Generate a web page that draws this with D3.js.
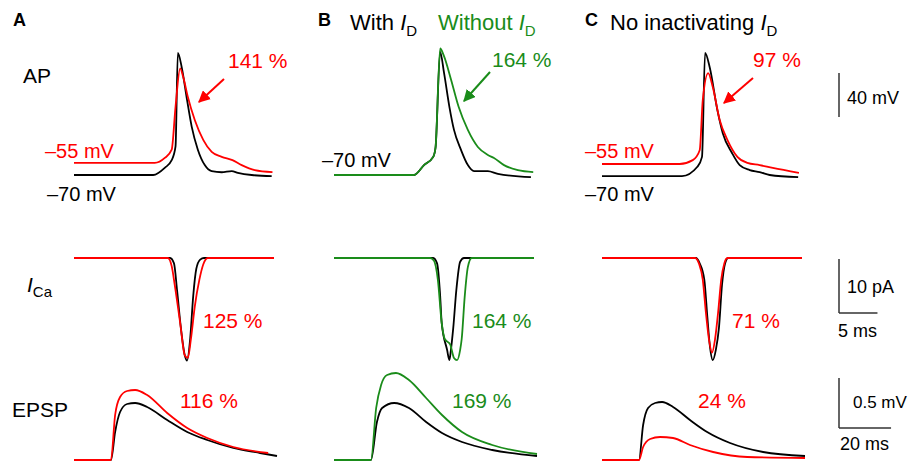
<!DOCTYPE html>
<html>
<head>
<meta charset="utf-8">
<script src="https://d3js.org/d3.v7.min.js"></script>
<style>
    body { margin: 0; background: #fff; }
    text { font-family: Arial, "Liberation Sans", Helvetica, sans-serif; }
</style>
</head>
<body>
<script>
    var width = 914;
    var height = 462;

    // panel left edges (px) and colours
    var panelX = [74, 334, 602];
    var red = "#ff0000";
    var green = "#1a8c1a";

    // ---- AP traces [ms, mV] ----
    var apA_black = [[0,-70],[10.3,-70],[11.8,-63.5],[12.7,-56.5],[13.2,-44],[13.5,41],[14.0,28],[14.7,-2],[15.3,-26],[16.1,-47],[17.0,-61],[17.9,-66.5],[19.2,-67.5],[20.5,-66.5],[21.3,-68],[23.1,-70],[25.7,-71]];
    var apA_red = [[0,-59],[10.5,-59],[11.8,-54.5],[12.7,-47],[13.2,-8],[13.8,27],[14.2,19],[14.8,1],[15.7,-20],[16.8,-38],[17.9,-49],[19.2,-53.5],[20.6,-56.5],[21.8,-61],[23.5,-65.5],[25.8,-67.3]];
    var apB_black = [[0,-70],[10.4,-70],[11.7,-61],[12.9,-53.5],[13.2,-45],[13.8,42],[14.3,23],[15.0,-8],[15.6,-29],[16.5,-47],[17.4,-61],[18.2,-66.5],[20.0,-66.5],[21.3,-69],[25.6,-72]];
    var apB_green = [[0,-70],[10.4,-70],[11.7,-61],[12.9,-53.5],[13.2,-45],[13.8,45],[14.3,38],[15.2,17],[16.2,-8],[17.4,-29],[18.7,-44.5],[20.0,-51.8],[20.8,-54.5],[22.1,-61],[23.9,-65.5],[25.9,-67.3]];
    var apC_black = [[0,-71],[10.4,-71],[12.4,-62.5],[13.0,-53.5],[13.4,41],[14.0,28],[15.0,-11],[15.7,-32],[16.9,-50],[17.9,-61],[19.2,-65.5],[20.5,-67.3],[21.8,-70],[25.5,-72]];
    var apC_red = [[0,-60],[10.1,-60],[11.8,-56.5],[12.7,-47.5],[13.1,-2],[13.8,22.7],[14.4,10],[15.3,-20],[16.3,-38],[17.6,-53.5],[18.9,-59],[20.5,-61],[22.2,-63.6],[25.6,-68]];

    // ---- ICa traces [ms, pA] ----
    var caA_black = [[0,0],[12.5,0],[13.0,-1],[13.4,-6],[13.9,-13],[14.4,-18],[14.7,-19],[15.1,-15],[15.5,-7],[15.9,-2],[16.4,-0.3],[16.9,0],[26,0]];
    var caA_red = [[0,0],[12.2,0],[12.7,-1.5],[13.1,-5],[13.8,-12],[14.4,-18],[14.8,-18.5],[15.2,-15],[15.7,-9],[16.3,-4],[16.8,-1.2],[17.4,0],[26,0]];
    var caB_black = [[0,0],[12.9,0],[13.4,-1],[13.8,-7],[14.0,-12],[14.7,-17],[15.0,-18.9],[15.2,-17],[15.5,-13],[15.9,-6],[16.4,-0.7],[16.9,0],[26,0]];
    var caB_green = [[0,0],[12.5,0],[13.0,-0.5],[13.5,-4],[14.0,-12],[14.4,-15],[15.1,-16],[15.6,-18.5],[16.0,-18.9],[16.4,-17],[16.6,-15],[17.0,-7],[17.4,-1.7],[17.9,0],[26,0]];
    var caC_black = [[0,0],[12.2,0],[12.7,-1],[13.3,-4],[13.7,-11],[14.0,-16],[14.4,-18.9],[14.8,-17],[15.2,-13],[15.6,-5],[16.0,-1],[16.4,0],[26,0]];
    var caC_red = [[0,0],[12.1,0],[12.6,-1],[13.1,-4],[13.5,-10],[13.9,-15],[14.3,-17.5],[14.7,-15],[15.1,-10],[15.5,-4],[15.9,-1],[16.3,0],[26,0]];

    // ---- EPSP traces [ms, mV] ----
    var epA_black = [[0,0],[14.2,0],[15.8,0.28],[17.7,0.48],[20.4,0.56],[23.5,0.57],[28.1,0.53],[35.8,0.40],[43.5,0.28],[51.2,0.20],[61.2,0.12],[71.5,0.07],[78,0.04]];
    var epA_red = [[0,0],[14.2,0],[15.8,0.45],[17.7,0.63],[20.4,0.69],[23.5,0.70],[28.1,0.65],[35.8,0.47],[43.5,0.32],[51.2,0.22],[61.2,0.13],[74.6,0.07]];
    var epB_black = [[0,0],[14.2,0],[16.5,0.38],[18.5,0.52],[23.1,0.57],[28.8,0.52],[35.4,0.38],[41.5,0.27],[49.2,0.18],[60.8,0.10],[78,0.04]];
    var epB_green = [[0,0],[14.2,0],[16.2,0.52],[18.1,0.75],[20.4,0.85],[23.8,0.87],[28.8,0.80],[35.4,0.62],[41.5,0.45],[49.2,0.28],[60.8,0.15],[78,0.06]];
    var epC_black = [[0,0],[14.2,0],[15.8,0.35],[17.7,0.52],[20.4,0.57],[23.1,0.58],[27.3,0.53],[33.8,0.40],[40.4,0.28],[49.2,0.17],[61.9,0.08],[78,0.04]];
    var epC_red = [[0,0],[14.2,0],[15.8,0.13],[18.5,0.21],[22.3,0.23],[27.3,0.22],[33.8,0.15],[42.7,0.08],[55.8,0.03],[78,0.02]];

    var pctAP = ["141 %", "164 %", "97 %"];
    var pctCa = ["125 %", "164 %", "71 %"];
    var pctEP = ["116 %", "169 %", "24 %"];

    var svg = d3.select("body").append("svg")
        .attr("width", width)
        .attr("height", height);

    // y scales per row
    var yAP = d3.scaleLinear().domain([-70, 40]).range([175, 54]);
    var yCa = d3.scaleLinear().domain([0, -20]).range([258, 366]);
    var yEP = d3.scaleLinear().domain([0, 1]).range([460, 360]);

    function xFast(p) { return d3.scaleLinear().domain([0, 26]).range([panelX[p], panelX[p] + 200]); }
    function xSlow(p) { return d3.scaleLinear().domain([0, 78]).range([panelX[p], panelX[p] + 203]); }

    function trace(data, xs, ys, col) {
        var line = d3.line()
            .x(function(d) { return xs(d[0]); })
            .y(function(d) { return ys(d[1]); })
            .curve(d3.curveMonotoneX);
        svg.append("path")
            .datum(data)
            .attr("d", line)
            .attr("fill", "none")
            .attr("stroke", col)
            .attr("stroke-width", 1.8)
            .attr("stroke-linejoin", "round");
    }

    var apSets = [[apA_black, apA_red, red], [apB_black, apB_green, green], [apC_black, apC_red, red]];
    var caSets = [[caA_black, caA_red, red], [caB_black, caB_green, green], [caC_black, caC_red, red]];
    var epSets = [[epA_black, epA_red, red], [epB_black, epB_green, green], [epC_black, epC_red, red]];

    for (var p = 0; p < 3; p++) {
        trace(apSets[p][0], xFast(p), yAP, "#000");
        trace(apSets[p][1], xFast(p), yAP, apSets[p][2]);
        trace(caSets[p][0], xFast(p), yCa, "#000");
        trace(caSets[p][1], xFast(p), yCa, caSets[p][2]);
        trace(epSets[p][0], xSlow(p), yEP, "#000");
        trace(epSets[p][1], xSlow(p), yEP, epSets[p][2]);
    }

    function label(x, y, txt, size, col, weight) {
        return svg.append("text")
            .attr("x", x).attr("y", y)
            .attr("font-size", size)
            .attr("fill", col || "#000")
            .attr("font-weight", weight || "normal")
            .text(txt);
    }

    // panel letters + titles
    label(13, 26, "A", 18, "#000", "bold");
    label(318, 26, "B", 18, "#000", "bold");
    label(585, 26, "C", 18, "#000", "bold");

    function subTitle(x, y, pre, col) {
        var t = svg.append("text").attr("x", x).attr("y", y)
            .attr("font-size", 22).attr("fill", col);
        t.append("tspan").text(pre);
        t.append("tspan").attr("font-style", "italic").text("I");
        t.append("tspan").attr("font-size", 15).attr("dy", 6).text("D");
    }
    subTitle(350, 30, "With ", "#000");
    subTitle(438, 30, "Without ", green);
    subTitle(610, 30, "No inactivating ", "#000");

    // row labels
    label(23, 83, "AP", 21);
    var ica = svg.append("text").attr("x", 27).attr("y", 292).attr("font-size", 21);
    ica.append("tspan").attr("font-style", "italic").text("I");
    ica.append("tspan").attr("font-size", 15).attr("dy", 5).text("Ca");
    label(12, 417, "EPSP", 21);

    // holding potentials
    label(45, 158, "–55 mV", 20, red);
    label(47, 201, "–70 mV", 20);
    label(322, 167, "–70 mV", 20);
    label(585, 158, "–55 mV", 20, red);
    label(585, 201, "–70 mV", 20);

    // percentages
    var pctCol = [red, green, red];
    var apPct = [[228, 68], [492, 67], [753, 67]];
    var caPct = [[203, 328], [472, 328], [732, 328]];
    var epPct = [[180, 408], [452, 408], [698, 408]];
    for (var i = 0; i < 3; i++) {
        label(apPct[i][0], apPct[i][1], pctAP[i], 21, pctCol[i]);
        label(caPct[i][0], caPct[i][1], pctCa[i], 21, pctCol[i]);
        label(epPct[i][0], epPct[i][1], pctEP[i], 21, pctCol[i]);
    }

    // arrows
    var defs = svg.append("defs");
    [["ar", red], ["ag", green]].forEach(function(m) {
        defs.append("marker")
            .attr("id", m[0])
            .attr("viewBox", "0 0 10 10")
            .attr("refX", 9).attr("refY", 5)
            .attr("markerWidth", 6).attr("markerHeight", 6)
            .attr("markerUnits", "strokeWidth")
            .attr("orient", "auto")
            .append("path").attr("d", "M0,0 L10,5 L0,10 z").attr("fill", m[1]);
    });
    var arrows = [[224, 79, 199, 102, "ar", red], [490, 72, 464, 101, "ag", green], [753, 78, 724, 103, "ar", red]];
    arrows.forEach(function(a) {
        svg.append("line")
            .attr("x1", a[0]).attr("y1", a[1]).attr("x2", a[2]).attr("y2", a[3])
            .attr("stroke", a[5]).attr("stroke-width", 2)
            .attr("marker-end", "url(#" + a[4] + ")");
    });

    // scale bars
    var sbX = 839;
    var sb = svg.append("g").attr("stroke", "#333").attr("stroke-width", 1.5).attr("fill", "none");
    var xs0 = xFast(2), xe0 = xSlow(2);
    // 40 mV
    sb.append("line").attr("x1", sbX).attr("x2", sbX).attr("y1", 73).attr("y2", 73 + yAP(-70) - yAP(-30));
    label(847, 104, "40 mV", 18);
    // 10 pA, 5 ms
    var caBot = 259 + yCa(-10) - yCa(0);
    sb.append("line").attr("x1", sbX).attr("x2", sbX).attr("y1", 259).attr("y2", caBot);
    sb.append("line").attr("x1", sbX).attr("x2", sbX + xs0(5) - xs0(0)).attr("y1", caBot).attr("y2", caBot);
    label(847, 293, "10 pA", 18);
    label(838, 337, "5 ms", 18);
    // 0.5 mV, 20 ms
    var epBot = 378 + yEP(0) - yEP(0.5);
    sb.append("line").attr("x1", sbX).attr("x2", sbX).attr("y1", 378).attr("y2", epBot);
    sb.append("line").attr("x1", sbX).attr("x2", sbX + xe0(20) - xe0(0)).attr("y1", epBot).attr("y2", epBot);
    label(853, 408, "0.5 mV", 17);
    label(840, 450, "20 ms", 18);
</script>
</body>
</html>
